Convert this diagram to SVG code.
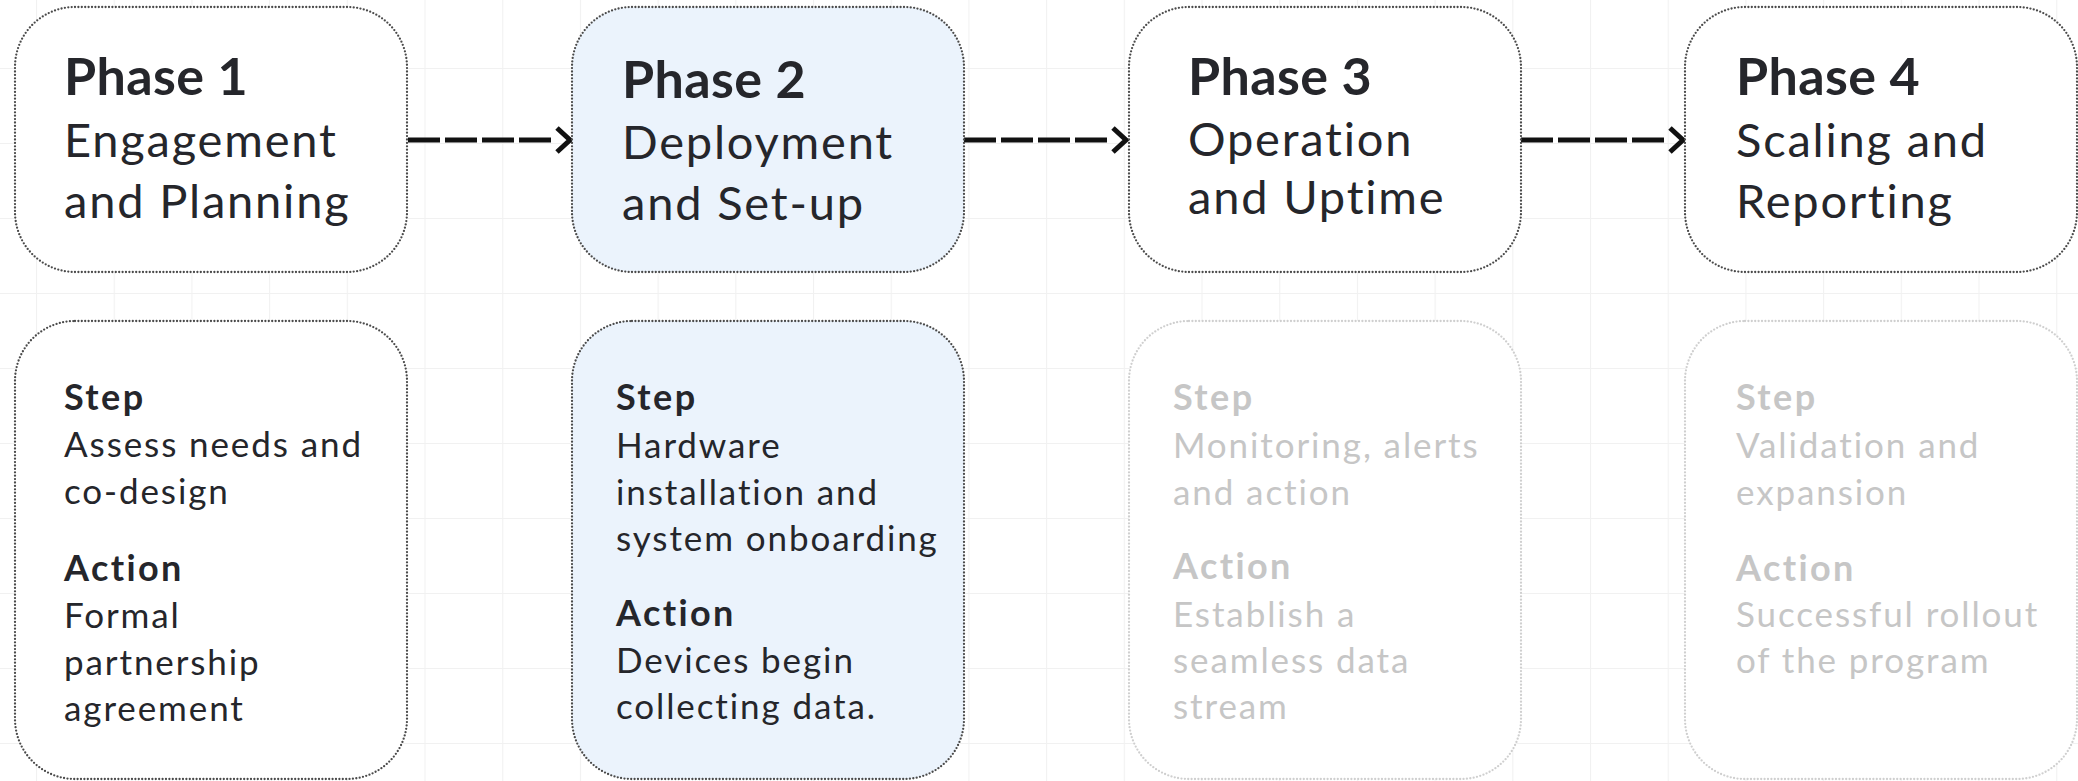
<svg xmlns="http://www.w3.org/2000/svg" width="2078" height="781" viewBox="0 0 2078 781">
<defs>
<pattern id="grid" x="36" y="68" width="77.7" height="75" patternUnits="userSpaceOnUse">
<path d="M0.5,0 V75 M0,0.5 H77.7" fill="none" stroke="#f1f1f1" stroke-width="1.2"/>
</pattern>
<marker id="chev" markerUnits="userSpaceOnUse" viewBox="0 0 24 28" markerWidth="24" markerHeight="28" refX="0" refY="14" orient="auto" overflow="visible">
<path d="M4,2 L17,14 L4,26" fill="none" stroke="#111" stroke-width="5"/>
</marker>
<style>
.box{fill:#ffffff;stroke:#4a4a4a;stroke-width:2.3;stroke-dasharray:0 3.4;stroke-linecap:round}
.box.active{fill:#ebf3fc}
.box.faded{stroke:#cfcfcf}
.t{font-family:Lato,"Liberation Sans",sans-serif;fill:#25262b}
.ph{font-size:52px;font-weight:700;letter-spacing:0.4px}
.sub{font-size:47px;letter-spacing:1.8px}
.hd{font-size:36px;font-weight:700;letter-spacing:2.4px}
.bd{font-size:35px;letter-spacing:1.9px}
.faded-t{fill:#c6c6c6}
.conn{fill:none;stroke:#111;stroke-width:5;stroke-dasharray:32 5}
</style>
</defs>
<rect width="2078" height="781" fill="#ffffff"/>
<rect width="2078" height="781" fill="url(#grid)"/>

<g id="connectors">
<line class="conn" x1="408" y1="140" x2="553" y2="140" marker-end="url(#chev)"/>
<line class="conn" x1="964" y1="140" x2="1109" y2="140" marker-end="url(#chev)"/>
<line class="conn" x1="1521" y1="140" x2="1666" y2="140" marker-end="url(#chev)"/>
</g>

<g id="phase1">
<rect class="box" x="15" y="7" width="392" height="265" rx="60" ry="60"/>
<text class="t ph" x="64" y="95">Phase 1</text>
<text class="t sub" x="64" y="157">Engagement</text>
<text class="t sub" x="64" y="218">and Planning</text>
</g>
<g id="phase2">
<rect class="box active" x="572" y="7" width="392" height="265" rx="60" ry="60"/>
<text class="t ph" x="622" y="98">Phase 2</text>
<text class="t sub" x="622" y="159">Deployment</text>
<text class="t sub" x="622" y="220">and Set-up</text>
</g>
<g id="phase3">
<rect class="box" x="1129" y="7" width="392" height="265" rx="60" ry="60"/>
<text class="t ph" x="1188" y="95">Phase 3</text>
<text class="t sub" x="1188" y="156">Operation</text>
<text class="t sub" x="1188" y="214">and Uptime</text>
</g>
<g id="phase4">
<rect class="box" x="1685" y="7" width="392" height="265" rx="60" ry="60"/>
<text class="t ph" x="1736" y="95">Phase 4</text>
<text class="t sub" x="1736" y="157">Scaling and</text>
<text class="t sub" x="1736" y="218">Reporting</text>
</g>

<g id="detail1">
<rect class="box" x="15" y="321" width="392" height="458" rx="60" ry="60"/>
<text class="t hd" x="64" y="410">Step</text>
<text class="t bd" x="64" y="457">Assess needs and</text>
<text class="t bd" x="64" y="504">co-design</text>
<text class="t hd" x="64" y="581">Action</text>
<text class="t bd" x="64" y="628">Formal</text>
<text class="t bd" x="64" y="675">partnership</text>
<text class="t bd" x="64" y="721">agreement</text>
</g>
<g id="detail2">
<rect class="box active" x="572" y="321" width="392" height="458" rx="60" ry="60"/>
<text class="t hd" x="616" y="410">Step</text>
<text class="t bd" x="616" y="458">Hardware</text>
<text class="t bd" x="616" y="505">installation and</text>
<text class="t bd" x="616" y="551">system onboarding</text>
<text class="t hd" x="616" y="626">Action</text>
<text class="t bd" x="616" y="673">Devices begin</text>
<text class="t bd" x="616" y="719">collecting data.</text>
</g>
<g id="detail3">
<rect class="box faded" x="1129" y="321" width="392" height="458" rx="60" ry="60"/>
<text class="t hd faded-t" x="1173" y="410">Step</text>
<text class="t bd faded-t" x="1173" y="458">Monitoring, alerts</text>
<text class="t bd faded-t" x="1173" y="505">and action</text>
<text class="t hd faded-t" x="1173" y="579">Action</text>
<text class="t bd faded-t" x="1173" y="627">Establish a</text>
<text class="t bd faded-t" x="1173" y="673">seamless data</text>
<text class="t bd faded-t" x="1173" y="719">stream</text>
</g>
<g id="detail4">
<rect class="box faded" x="1685" y="321" width="392" height="458" rx="60" ry="60"/>
<text class="t hd faded-t" x="1736" y="410">Step</text>
<text class="t bd faded-t" x="1736" y="458">Validation and</text>
<text class="t bd faded-t" x="1736" y="505">expansion</text>
<text class="t hd faded-t" x="1736" y="581">Action</text>
<text class="t bd faded-t" x="1736" y="627">Successful rollout</text>
<text class="t bd faded-t" x="1736" y="673">of the program</text>
</g>
</svg>
